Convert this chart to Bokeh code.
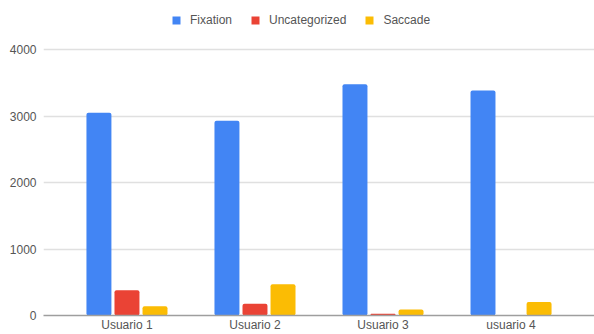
from bokeh.plotting import figure
from bokeh.models import ColumnDataSource, FactorRange, Range1d, FixedTicker, Legend, LegendItem
from bokeh.transform import dodge
from bokeh.embed import file_html
from bokeh.resources import INLINE

users = ["Usuario 1", "Usuario 2", "Usuario 3", "usuario 4"]
fixation = [3048, 2928, 3478, 3384]
uncategorized = [379, 175, 25, 0]
saccade = [139, 469, 90, 202]
series_names = ["Fixation", "Uncategorized", "Saccade"]
y_ticks = [0, 1000, 2000, 3000, 4000]

colors = ["#4285F4", "#EA4335", "#FBBC04"]

src = ColumnDataSource(dict(user=users, Fixation=fixation,
                            Uncategorized=uncategorized, Saccade=saccade))

p = figure(width=594, height=334, output_backend="svg", toolbar_location=None,
           x_range=FactorRange(factors=users, range_padding=0.076),
           y_range=Range1d(0, 4738))
p.min_border_left = 43
p.min_border_right = 0
p.min_border_top = 0
p.min_border_bottom = 18
p.outline_line_color = None
p.background_fill_color = "white"
p.border_fill_color = "white"

offsets = [-0.219, 0.0, 0.219]
renderers = []
for name, off, c in zip(series_names, offsets, colors):
    r = p.vbar(x=dodge("user", off, range=p.x_range), top=name, width=0.195,
               source=src, fill_color=c, line_color=None, border_radius=2)
    renderers.append(r)

font = "Liberation Sans"
for ax in (p.xaxis, p.yaxis):
    ax.major_tick_out = 0
    ax.major_tick_in = 0
    ax.minor_tick_out = 0
    ax.minor_tick_in = 0
    ax.major_tick_line_color = None
    ax.minor_tick_line_color = None
    ax.axis_label_standoff = 0
    ax.major_label_text_font = font
    ax.major_label_text_font_size = "12px"
    ax.major_label_text_color = "#555555"

p.yaxis.ticker = FixedTicker(ticks=y_ticks)
p.yaxis.axis_line_color = None
p.yaxis.major_label_standoff = 7

p.xaxis.axis_line_color = "#9e9e9e"
p.xaxis.axis_line_width = 1.5
p.xaxis.major_label_standoff = 2

p.xgrid.grid_line_color = None
p.ygrid.grid_line_color = "#e0e0e0"
p.ygrid.grid_line_width = 1.5

legend = Legend(items=[LegendItem(label=n, renderers=[r]) for n, r in zip(series_names, renderers)],
                orientation="horizontal", location=(128, 288))
legend.glyph_width = 10
legend.glyph_height = 10
legend.label_height = 10
legend.label_standoff = 9
legend.spacing = 18
legend.padding = 0
legend.margin = 0
legend.border_line_color = None
legend.background_fill_alpha = 0
legend.label_text_font = font
legend.label_text_font_size = "12px"
legend.label_text_color = "#555555"
p.add_layout(legend, "center")

open("out.html", "w").write(file_html(p, INLINE))
